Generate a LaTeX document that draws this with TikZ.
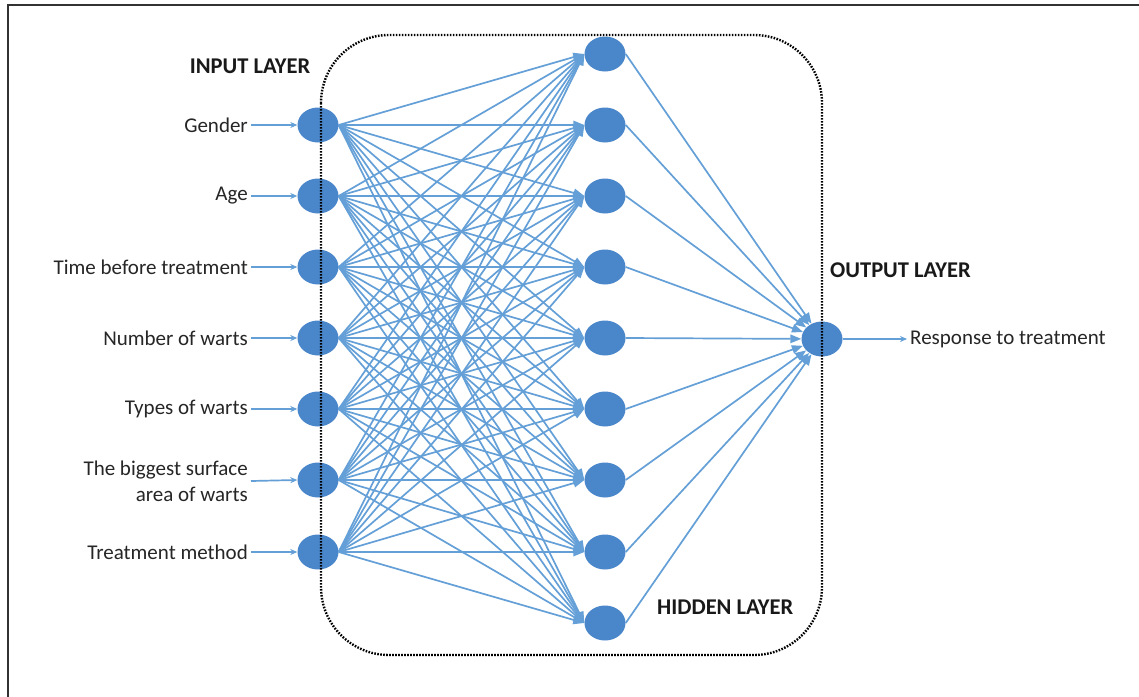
\documentclass[tikz,border=0pt]{standalone}
\usepackage{fontspec}
\setmainfont{Carlito}
\usetikzlibrary{arrows.meta,shapes.geometric}
\definecolor{nodeblue}{RGB}{74,134,202}
\definecolor{edgeblue}{RGB}{100,160,215}
\definecolor{framegray}{RGB}{50,50,50}
\begin{document}
\begin{tikzpicture}[x=1pt,y=-1pt,
  neuron/.style={ellipse,fill=nodeblue,draw=none,minimum width=41pt,minimum height=35pt,inner sep=0pt},
  lab/.style={font=\fontsize{21}{26}\selectfont,text=black!85,inner sep=3pt},
  title/.style={font=\fontsize{22.5}{26}\selectfont\bfseries,text=black!90,inner sep=0pt},
  conn/.style={draw=edgeblue,line width=1.7pt,-{Triangle[length=11pt,width=8.5pt]}},
  feed/.style={draw=edgeblue,line width=1.7pt,-{Stealth[length=7pt,width=6pt]}},
  boxline/.style={draw=black,line width=2.4pt,dash pattern=on 1.6pt off 1.4pt,rounded corners=68pt}
]
\useasboundingbox (0,0) rectangle (1139,696);
\path[fill=white] (0,0) rectangle (1139,696);
% outer frame (top and left only visible)
\draw[framegray,line width=2pt] (8,697) -- (8,5) -- (1140,5);

% input nodes
\foreach \i/\y in {1/125,2/196,3/267,4/338,5/409,6/480,7/552}{
  \node[neuron] (in\i) at (318,\y) {};
}
% hidden nodes
\foreach \j/\y in {1/54,2/125,3/196,4/267,5/338,6/409,7/480,8/552,9/623}{
  \node[neuron] (h\j) at (605,\y) {};
}
% output node
\node[neuron] (out) at (822,339) {};

% labels
\node[lab,anchor=east] (l1) at (251,125) {Gender};
\node[lab,anchor=east] (l2) at (251,196) {Age};
\node[lab,anchor=east] (l3) at (251,267) {Time before treatment};
\node[lab,anchor=east] (l4) at (251,338) {Number of warts};
\node[lab,anchor=east] (l5) at (251,409) {Types of warts};
\node[lab,anchor=east,align=right] (l6) at (251,481) {The biggest surface\\area of warts};
\node[lab,anchor=east] (l7) at (251,552) {Treatment method};
\node[lab,anchor=west] (resp) at (907,339) {Response to treatment};

\node[title] (tin) at (250,66) {INPUT LAYER};
\node[title,anchor=west] (tout) at (830,270) {OUTPUT LAYER};
\node[title,anchor=west] (thid) at (657,607) {HIDDEN LAYER};

% input feeds
\foreach \i in {1,...,7}{
  \draw[feed] (l\i.east) -- (in\i.west);
}
% input -> hidden
\foreach \i in {1,...,7}{
  \foreach \j in {1,...,9}{
    \draw[conn] (in\i.east) -- (h\j.west);
  }
}
% hidden -> output
\foreach \j in {1,...,9}{
  \draw[conn] (h\j.east) -- (out);
}
% output -> response
\draw[feed] (out.east) -- (resp.west);

% hidden layer dotted box
\draw[boxline] (321,35) rectangle (822,655);
\end{tikzpicture}
\end{document}
